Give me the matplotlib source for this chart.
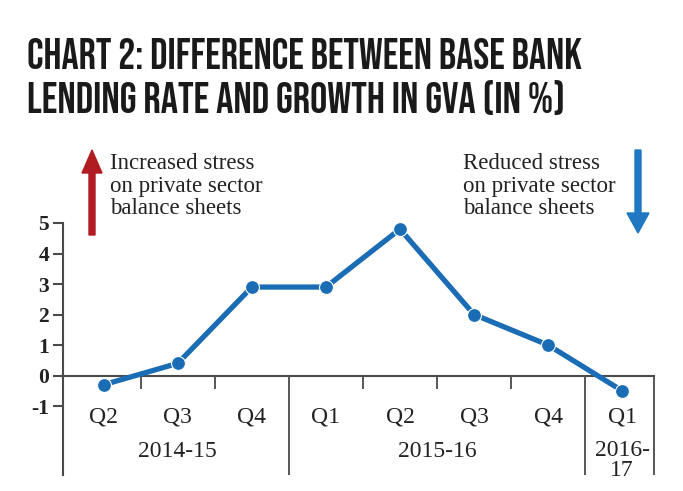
import matplotlib
matplotlib.use("Agg")
import matplotlib.pyplot as plt
import matplotlib.patches as mpatches
from matplotlib import font_manager as fm

# ---- data ----
quarters = ['Q2', 'Q3', 'Q4', 'Q1', 'Q2', 'Q3', 'Q4', 'Q1']
values = [-0.3, 0.4, 2.9, 2.9, 4.8, 2.0, 1.0, -0.5]
years = ['2014-15', '2015-16', '2016-\n17']
year_centers = [1, 4.5, 7]
yticks = [-1, 0, 1, 2, 3, 4, 5]
title_lines = ['CHART 2: DIFFERENCE BETWEEN BASE BANK',
               'LENDING RATE AND GROWTH IN GVA (IN %)']
note_up = 'Increased stress\non private sector\nbalance sheets'
note_down = 'Reduced stress\non private sector\nbalance sheets'


def pick(cands):
    for name in cands:
        try:
            fm.findfont(fm.FontProperties(family=name), fallback_to_default=False)
            return name
        except Exception:
            pass
    return 'DejaVu Sans'


title_font = pick(['Bebas Neue', 'Oswald', 'Roboto Condensed', 'Liberation Sans Narrow'])
serif = pick(['Liberation Serif', 'DejaVu Serif'])

TXT = '#222222'
LINE = '#1a6db5'
AX = '#4a4a4a'

W, H = 683, 491
fig = plt.figure(figsize=(W / 100, H / 100), dpi=100)
fig.patch.set_facecolor('white')

# axes placement in pixels
x0, x1 = 63, 654
ytop, ybot = 223, 475
ax = fig.add_axes([x0 / W, 1 - ybot / H, (x1 - x0) / W, (ybot - ytop) / H])
xmin, xmax = -0.55, 7.43
ymin, ymax = -3.26, 5
ax.set_xlim(xmin, xmax)
ax.set_ylim(ymin, ymax)
ax.set_facecolor('none')
for s in ['top', 'right', 'bottom']:
    ax.spines[s].set_visible(False)
ax.spines['left'].set_color(AX)
ax.spines['left'].set_linewidth(1.5)
ax.spines['left'].set_bounds(ymin, ymax)
ax.set_xticks([])
ax.set_yticks(yticks)
ax.set_yticklabels([str(v) for v in yticks], fontfamily=serif, fontsize=15.5,
                   color=TXT, fontweight='bold')
ax.tick_params(axis='y', length=7, width=1.5, color=AX, pad=3)

# zero baseline and separators
ax.plot([xmin, xmax], [0, 0], color=AX, lw=1.5, clip_on=False, zorder=2)
ax.vlines([2.5, 6.5, xmax], ymin, 0, color=AX, lw=1.3, clip_on=False, zorder=2)
ax.vlines([0.5, 1.5, 3.5, 4.5, 5.5], -0.43, 0, color=AX, lw=1.3, clip_on=False, zorder=2)

# data line
xs = list(range(len(values)))
ax.plot(xs, values, color=LINE, lw=3.8, marker='o', markersize=10,
        markeredgecolor='white', markeredgewidth=0.8, clip_on=False, zorder=3,
        solid_capstyle='round')

# category labels
for i, q in enumerate(quarters):
    ax.text(i, -1.35, q, ha='center', va='center', fontsize=17,
            fontfamily=serif, color=TXT)
ax.text(year_centers[0], -2.5, years[0], ha='center', va='center', fontsize=17,
        fontfamily=serif, color=TXT)
ax.text(year_centers[1], -2.5, years[1], ha='center', va='center', fontsize=17,
        fontfamily=serif, color=TXT)
ax.text(year_centers[2], -2.12, years[2], ha='center', va='top', fontsize=17,
        fontfamily=serif, color=TXT, linespacing=0.95)

# title, fitted to width
fig.canvas.draw()
renderer = fig.canvas.get_renderer()
targets = [(27, 69, 582), (27, 113, 567)]
for line, (lx, by, rx) in zip(title_lines, targets):
    t = fig.text(lx / W, 1 - by / H, line, fontfamily=title_font, fontweight='bold',
                 fontsize=24, color='#1a1a1a', va='baseline', ha='left')
    bb = t.get_window_extent(renderer)
    t.set_fontsize(24 * (rx - lx) / bb.width)

# notes (baseline of last line)
fig.text(110 / W, 1 - 214 / H, note_up, fontfamily=serif, fontsize=16.5, color=TXT,
         va='baseline', ha='left', linespacing=1.08)
fig.text(463 / W, 1 - 214 / H, note_down, fontfamily=serif, fontsize=16.5, color=TXT,
         va='baseline', ha='left', linespacing=1.08)

# arrows (inches coords)
up = mpatches.FancyArrow(92 / 100, (H - 235) / 100, 0, (235 - 150) / 100,
                         width=0.06, head_width=0.2, head_length=0.23,
                         length_includes_head=True, color='#b01c22',
                         transform=fig.dpi_scale_trans)
down = mpatches.FancyArrow(638 / 100, (H - 150) / 100, 0, -(233 - 150) / 100,
                           width=0.06, head_width=0.22, head_length=0.2,
                           length_includes_head=True, color='#1f78c1',
                           transform=fig.dpi_scale_trans)
fig.patches.extend([up, down])

fig.savefig('out.png', dpi=100, facecolor='white')
